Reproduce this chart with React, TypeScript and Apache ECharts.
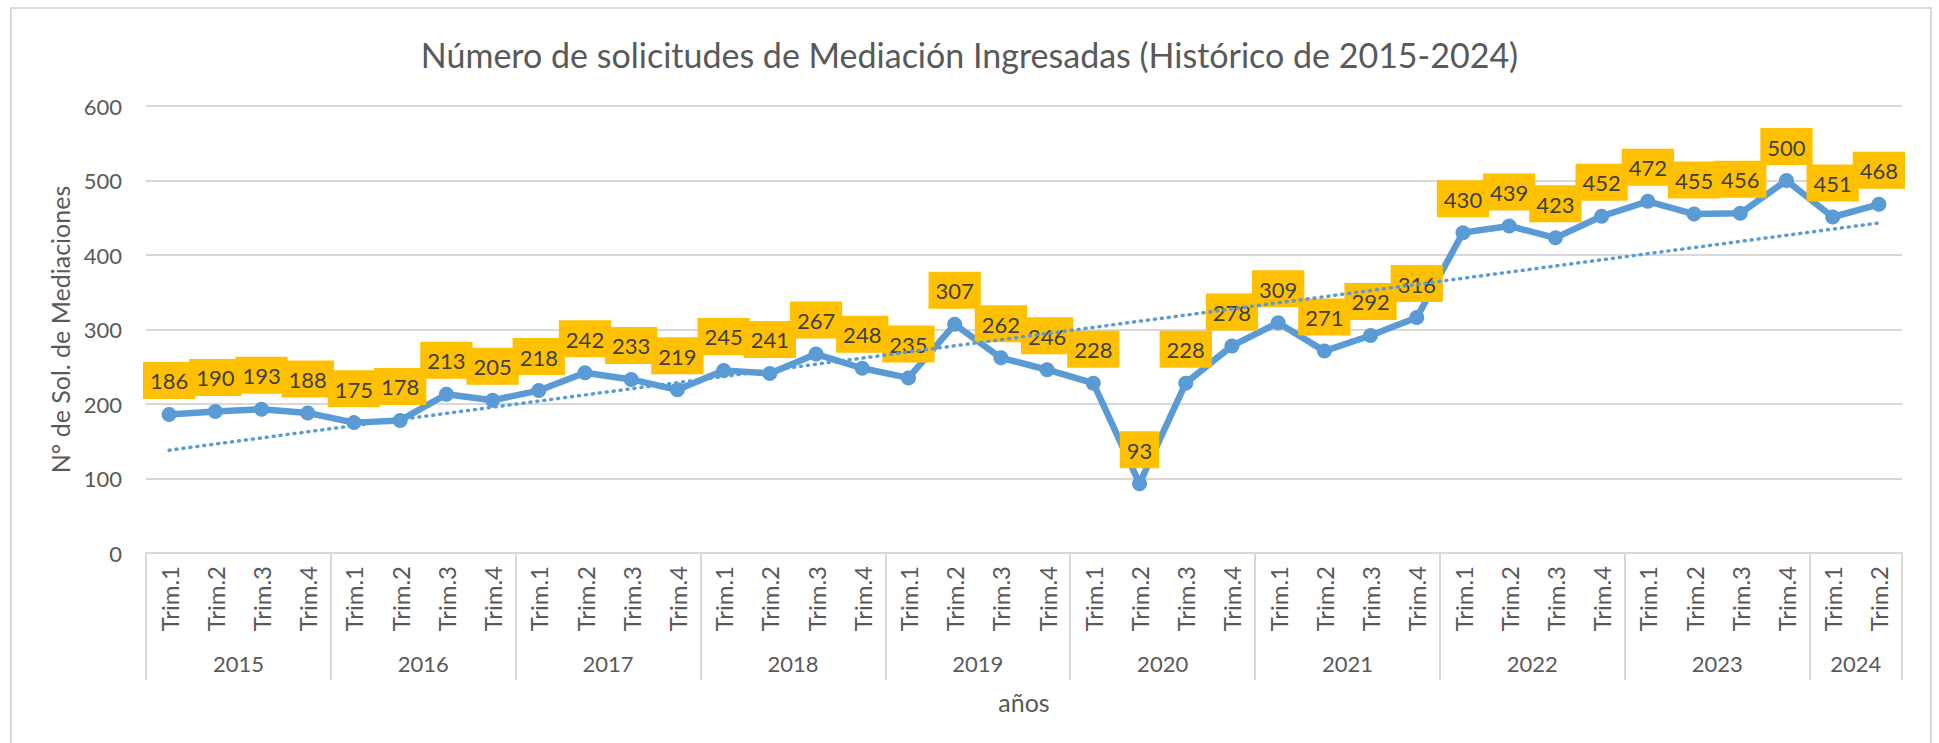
import React, { useEffect, useRef } from "react";
import * as echarts from "echarts";

const titleText = "Número de solicitudes de Mediación Ingresadas (Histórico de 2015-2024)";
const yAxisName = "N° de Sol. de Mediaciones";
const xAxisName = "años";
const quarters = ["Trim.1", "Trim.2", "Trim.3", "Trim.4"];
const years = ["2015", "2016", "2017", "2018", "2019", "2020", "2021", "2022", "2023", "2024"];
const quartersPerYear = [4, 4, 4, 4, 4, 4, 4, 4, 4, 2];
const values = [
  186, 190, 193, 188,
  175, 178, 213, 205,
  218, 242, 233, 219,
  245, 241, 267, 248,
  235, 307, 262, 246,
  228, 93, 228, 278,
  309, 271, 292, 316,
  430, 439, 423, 452,
  472, 455, 456, 500,
  451, 468,
];
const yMin = 0;
const yMax = 600;
const yInterval = 100;
// linear trendline end values
const trendStart = 138;
const trendEnd = 443;

const FONT = "Lato";
const TXT = "#595959";
const GRIDC = "#D9D9D9";
const BLUE = "#5B9BD5";

export default function App() {
  const ref = useRef<HTMLDivElement>(null);
  useEffect(() => {
    if (!ref.current) return;
    const chart = echarts.init(ref.current, null, { renderer: "svg" });

    const categories: string[] = [];
    years.forEach((y, i) => {
      for (let k = 0; k < quartersPerYear[i]; k++) categories.push(quarters[k]);
    });
    const n = categories.length;
    // half-slot axis for the year row
    const yearSlots: string[] = new Array(2 * n + 1).fill("");
    const boundaries = new Set<number>();
    let q = 0;
    years.forEach((y, i) => {
      boundaries.add(2 * q);
      yearSlots[2 * q + quartersPerYear[i]] = y;
      q += quartersPerYear[i];
    });
    boundaries.add(2 * n);

    const trendData: (number | null)[] = categories.map(() => null);
    trendData[0] = trendStart;
    trendData[n - 1] = trendEnd;

    chart.setOption({
      animation: false,
      backgroundColor: "#ffffff",
      textStyle: { fontFamily: FONT },
      title: {
        text: titleText,
        left: "center",
        top: 32,
        textStyle: { fontFamily: FONT, fontSize: 34, fontWeight: "normal", color: TXT },
      },
      graphic: [
        {
          type: "rect",
          shape: { x: 11, y: 8, width: 1920, height: 800 },
          style: { fill: "none", stroke: GRIDC, lineWidth: 2 },
          silent: true,
        },
      ],
      grid: { left: 146, right: 37, top: 106, bottom: 190, outerBoundsMode: "none" },
      xAxis: [
        {
          type: "category",
          data: categories,
          boundaryGap: true,
          position: "bottom",
          axisLine: { show: true, lineStyle: { color: GRIDC, width: 2 } },
          axisTick: { show: false },
          axisLabel: {
            rotate: 90,
            interval: 0,
            margin: 13,
            fontFamily: FONT,
            fontSize: 24,
            color: TXT,
          },
        },
        {
          type: "category",
          data: yearSlots,
          boundaryGap: false,
          position: "bottom",
          axisLine: { show: false },
          axisTick: {
            show: true,
            interval: (index: number) => boundaries.has(index),
            length: 127,
            lineStyle: { color: GRIDC, width: 2 },
          },
          axisLabel: {
            interval: (index: number) => yearSlots[index] !== "",
            margin: 99,
            fontFamily: FONT,
            fontSize: 22,
            color: TXT,
          },
          name: xAxisName,
          nameLocation: "middle",
          nameGap: 136,
          nameTextStyle: { fontFamily: FONT, fontSize: 25, color: TXT },
        },
      ],
      yAxis: {
        type: "value",
        min: yMin,
        max: yMax,
        interval: yInterval,
        axisLine: { show: false },
        axisTick: { show: false },
        splitLine: { lineStyle: { color: GRIDC, width: 2 } },
        axisLabel: { margin: 24, fontFamily: FONT, fontSize: 22, color: TXT },
        name: yAxisName,
        nameLocation: "middle",
        nameGap: 74,
        nameTextStyle: { fontFamily: FONT, fontSize: 25, color: TXT },
      },
      series: [
        {
          type: "line",
          data: values,
          xAxisIndex: 0,
          z: 2,
          symbol: "circle",
          symbolSize: 15,
          lineStyle: { color: BLUE, width: 6.5 },
          itemStyle: { color: BLUE },
          label: {
            show: true,
            position: "top",
            distance: 8,
            backgroundColor: "#FFC000",
            padding: [8, 7, 7, 7],
            color: "#404040",
            fontFamily: FONT,
            fontSize: 22,
          },
        },
        {
          type: "line",
          data: trendData,
          xAxisIndex: 0,
          z: 3,
          connectNulls: true,
          showSymbol: false,
          symbol: "none",
          silent: true,
          lineStyle: { color: BLUE, width: 3.5, type: [1, 6], cap: "round" },
        },
      ],
    });
    return () => chart.dispose();
  }, []);
  return (
    <div
      ref={ref}
      style={{ position: "fixed", left: 0, top: 0, width: 1939, height: 743 }}
    />
  );
}
